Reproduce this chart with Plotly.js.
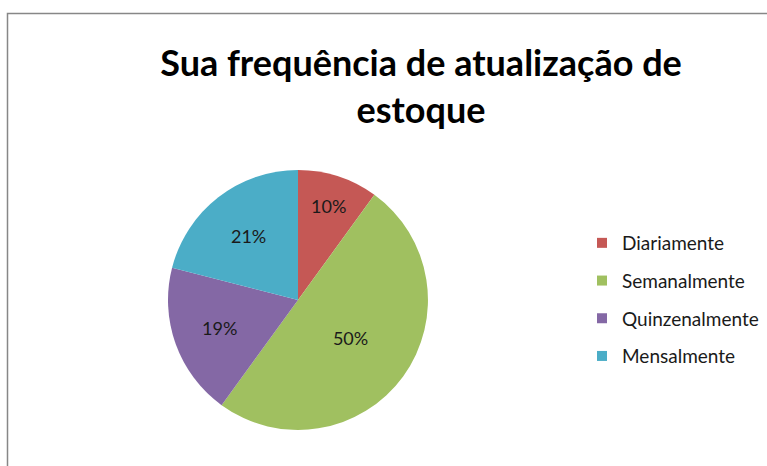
<!DOCTYPE html>
<html>
<head>
<meta charset="utf-8">
<script src="https://cdn.plot.ly/plotly-3.0.1.min.js"></script>
<style>html,body{margin:0;padding:0;background:#fff;}#chart{width:767px;height:466px;}</style>
</head>
<body>
<div id="chart"></div>
<script>
var categories = ["Diariamente", "Semanalmente", "Quinzenalmente", "Mensalmente"];
var values = [10, 50, 19, 21];
var colors = ["#C55855", "#A0C060", "#8468A5", "#4BADC7"];
var titleText = "Sua frequência de atualização de<br>estoque";

var W = 767, H = 466;
var fontFam = "Lato, 'Open Sans', sans-serif";

var traces = [{
  type: "pie",
  labels: categories,
  values: values,
  sort: false,
  direction: "clockwise",
  rotation: 0,
  marker: {colors: colors, line: {width: 0}},
  textinfo: "percent",
  texttemplate: "%{percent:.0%}",
  textposition: "inside",
  insidetextorientation: "horizontal",
  textfont: {family: fontFam, size: 18, color: "#1a1a1a"},
  hoverinfo: "label+percent",
  showlegend: false,
  domain: {x: [168 / W, 428 / W], y: [(H - 430) / H, (H - 170) / H]}
}];

categories.forEach(function (c, i) {
  traces.push({
    type: "scatter",
    mode: "markers",
    x: [null], y: [null],
    name: c,
    legendgroup: "g" + i,
    marker: {symbol: "square", size: 10, color: colors[i]},
    showlegend: true
  });
});

var layout = {
  width: W, height: H,
  margin: {l: 0, r: 0, t: 0, b: 0},
  paper_bgcolor: "#ffffff",
  plot_bgcolor: "rgba(0,0,0,0)",
  title: {
    text: titleText,
    font: {family: fontFam, size: 36, color: "#000000", weight: "bold"},
    x: 421 / W, xanchor: "center",
    y: (H - 76) / H, yanchor: "top",
    xref: "paper", yref: "paper"
  },
  xaxis: {visible: false, domain: [0.99, 1]},
  yaxis: {visible: false, domain: [0.99, 1]},
  showlegend: true,
  legend: {
    x: 582 / W, xanchor: "left",
    y: (H - 224) / H, yanchor: "top",
    font: {family: fontFam, size: 19, color: "#1a1a1a"},
    tracegroupgap: 10,
    itemclick: false,
    bgcolor: "rgba(0,0,0,0)"
  },
  shapes: [{
    type: "rect", xref: "paper", yref: "paper",
    x0: 7.5 / W, x1: 1.05, y0: -0.05, y1: (H - 13.5) / H,
    line: {color: "#878787", width: 1.5},
    fillcolor: "rgba(0,0,0,0)"
  }]
};

Plotly.newPlot("chart", traces, layout, {displayModeBar: false, staticPlot: true});
</script>
</body>
</html>
